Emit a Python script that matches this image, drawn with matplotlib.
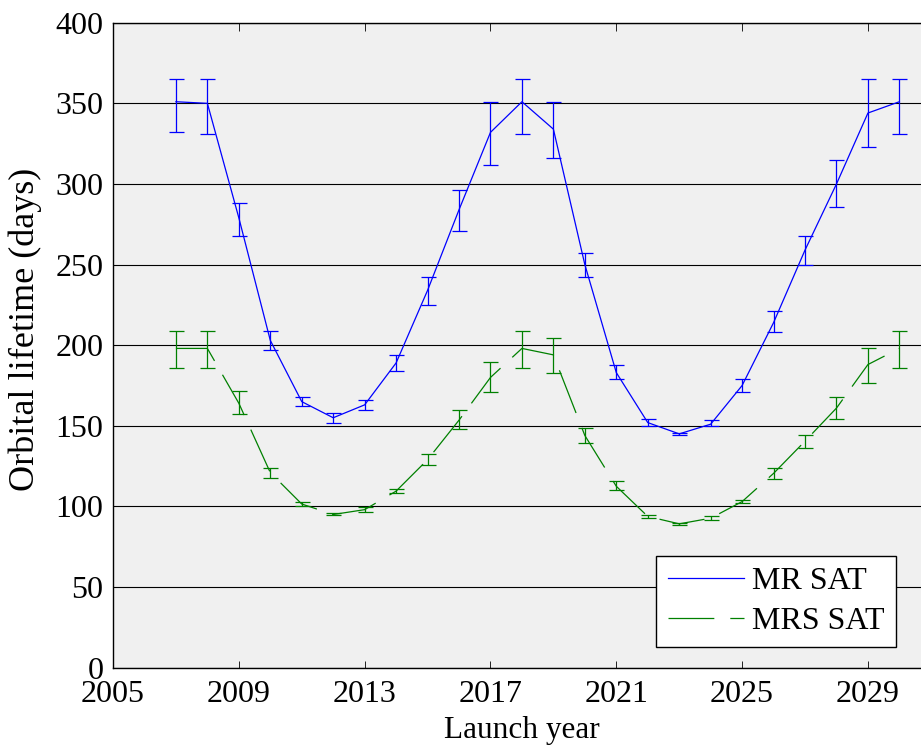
import matplotlib
matplotlib.use("Agg")
import matplotlib.pyplot as plt
import numpy as np

plt.rcParams['font.family'] = ['Liberation Serif', 'DejaVu Serif']
plt.rcParams['lines.scale_dashes'] = False

# launch years and orbital lifetimes (days), with error bar bounds
years = list(range(2007, 2031))

mr_sat = [351, 350, 279, 203, 165, 155, 163, 189, 234, 284, 332, 351,
          334, 250, 183, 152, 145, 151, 175, 214, 259, 300, 344, 351]
mr_upper = [365, 365, 288, 209, 168, 158, 166, 194, 242, 296, 351, 365,
            351, 257, 188, 154, 145.5, 153.5, 179, 221, 268, 315, 365, 365]
mr_lower = [332, 331, 268, 197, 162, 152, 160, 184, 225, 271, 312, 331,
            316, 242, 179, 150, 144, 150, 171, 208, 250, 286, 323, 331]

mrs_sat = [198, 198, 164, 121, 101.5, 95, 98, 109.5, 129, 153.5, 180, 198,
           194, 144, 112.5, 93.8, 89.2, 92.7, 103, 120.5, 140.5, 161, 188, 198]
mrs_upper = [209, 209, 171.5, 124, 103, 96, 99.6, 111, 132.5, 159.5, 189.5, 209,
             204.5, 148.5, 115.5, 94.5, 89.8, 93.8, 104.1, 124, 144.5, 168, 198.5, 209]
mrs_lower = [186, 186, 157.5, 117.7, 100.2, 94.5, 96.7, 108.2, 125.5, 148, 171, 186,
             182.5, 139.5, 110, 93.0, 88.7, 91.6, 102.3, 117, 136.5, 154, 176.5, 186]

x = np.array(years)
mr = np.array(mr_sat)
mrs = np.array(mrs_sat)
mr_err = [mr - np.array(mr_lower), np.array(mr_upper) - mr]
mrs_err = [mrs - np.array(mrs_lower), np.array(mrs_upper) - mrs]

fig = plt.figure(figsize=(9.21, 7.45), dpi=100)
ax = fig.add_axes([0.1227, 0.1038, 0.888, 0.8657])
ax.set_facecolor('#f0f0f0')

eb1 = ax.errorbar(x, mr, yerr=mr_err, color='blue', lw=0.9,
                  elinewidth=0.9, capsize=5.4, capthick=0.9, zorder=3)
eb2 = ax.errorbar(x, mrs, yerr=mrs_err, color='green', lw=0.9,
                  elinewidth=0.9, capsize=5.4, capthick=0.9, zorder=3)
eb2[0].set_dashes((33, 11.5))

ax.set_xlim(2005, 2031)
ax.set_ylim(0, 400)
ax.set_xticks(range(2005, 2030, 4))
ax.set_yticks(range(0, 401, 50))
ax.yaxis.grid(True, color='black', lw=0.8)
ax.set_axisbelow(True)

ax.tick_params(direction='in', top=True, right=True, length=5.4, width=0.6,
               labelsize=23)
ax.tick_params(axis='x', pad=9)
ax.tick_params(axis='y', pad=7)
for s in ['left', 'bottom', 'top']:
    ax.spines[s].set_linewidth(1.0)
ax.spines['right'].set_visible(False)

ax.set_xlabel('Launch year', fontsize=22.5, labelpad=5)
ax.set_ylabel('Orbital lifetime (days)', fontsize=26)
ax.yaxis.set_label_coords(-0.087, 0.525)

leg = ax.legend([eb1[0], eb2[0]], ['MR SAT', 'MRS SAT'], loc='lower right',
                bbox_to_anchor=(896 / 921, 1 - 647 / 745),
                bbox_transform=fig.transFigure, borderaxespad=0,
                fontsize=23, handlelength=2.4, handletextpad=0.25,
                labelspacing=0.32, borderpad=0.35, fancybox=False,
                framealpha=1, edgecolor='black')
leg.get_frame().set_linewidth(1.0)

fig.savefig('out.png', dpi=100)
